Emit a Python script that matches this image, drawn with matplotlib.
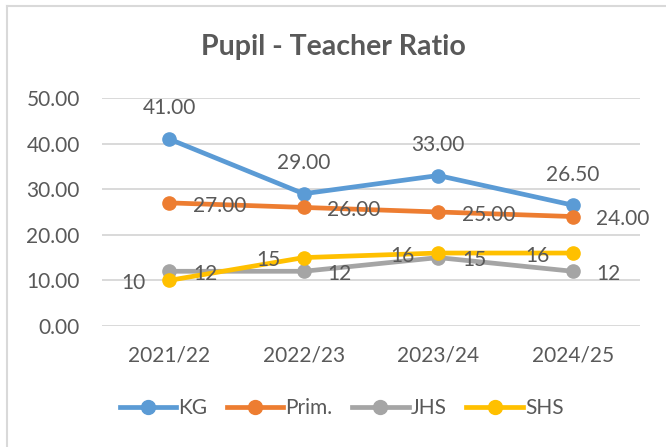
import matplotlib.pyplot as plt
from matplotlib.lines import Line2D

plt.rcParams['font.family'] = ['Lato', 'DejaVu Sans']

# Données
annees = ['2021/22', '2022/23', '2023/24', '2024/25']
kg = [41.0, 29.0, 33.0, 26.5]
prim = [27.0, 26.0, 25.0, 24.0]
jhs = [12, 12, 15, 12]
shs = [10, 15, 16, 16]

gris_texte = '#595959'
couleurs = {'KG': '#5B9BD5', 'Prim.': '#ED7D31', 'JHS': '#A5A5A5', 'SHS': '#FFC000'}

fig = plt.figure(figsize=(6.66, 4.47), dpi=100)
ax = fig.add_axes([0.153, 0.2707, 0.808, 0.5101])

x = list(range(len(annees)))
# ordre de tracé : le dernier est au-dessus
series = [('KG', kg, 'above', '{:.2f}'),
          ('Prim.', prim, 'right', '{:.2f}'),
          ('JHS', jhs, 'right', '{}'),
          ('SHS', shs, 'left', '{}')]

for nom, vals, pos, fmt in series:
    ax.plot(x, vals, color=couleurs[nom], lw=3.4, marker='o', ms=9.5,
            solid_capstyle='round', zorder=3)

for nom, vals, pos, fmt in series:
    for xi, v in zip(x, vals):
        txt = fmt.format(v)
        if pos == 'above':
            ax.annotate(txt, (xi, v), xytext=(0, 22), textcoords='offset points',
                        ha='center', va='center', fontsize=15, color=gris_texte, zorder=4)
        elif pos == 'right':
            ax.annotate(txt, (xi, v), xytext=(17, -2), textcoords='offset points',
                        ha='left', va='center', fontsize=15, color=gris_texte, zorder=4)
        else:
            ax.annotate(txt, (xi, v), xytext=(-17, -2), textcoords='offset points',
                        ha='right', va='center', fontsize=15, color=gris_texte, zorder=4)

ax.set_xlim(-0.5, len(annees) - 0.5)
ax.set_ylim(0, 50)
ax.set_yticks(range(0, 51, 10))
ax.set_yticklabels(['{:.2f}'.format(v) for v in range(0, 51, 10)])
ax.set_xticks(x)
ax.set_xticklabels(annees)
ax.tick_params(axis='both', length=0, labelsize=15, labelcolor=gris_texte)
ax.tick_params(axis='y', pad=16)
ax.tick_params(axis='x', pad=14)
ax.grid(axis='y', color='#D9D9D9', lw=1.4, zorder=0)
for s in ax.spines.values():
    s.set_visible(False)
ax.set_axisbelow(True)

fig.text(0.5, 1 - 47 / 447, 'Pupil - Teacher Ratio', ha='center', va='center',
         fontsize=20.5, fontweight='bold', color=gris_texte)

# légende
poignees = [Line2D([0], [0], color=couleurs[n], lw=3.4, marker='o', ms=10)
            for n, _, _, _ in series]
fig.legend(poignees, [n for n, _, _, _ in series], loc='center',
           bbox_to_anchor=(0.513, 1 - 408 / 447), ncol=4, frameon=False,
           fontsize=15, labelcolor=gris_texte, handlelength=2.7,
           handletextpad=0.1, columnspacing=0.95)

# cadre du graphique
fig.add_artist(Line2D([7 / 666, 1], [1 - 6 / 447] * 2, color='#D9D9D9', lw=1.5))
fig.add_artist(Line2D([7 / 666] * 2, [0, 1 - 6 / 447], color='#D9D9D9', lw=1.5))

fig.savefig('out.png', dpi=100)
